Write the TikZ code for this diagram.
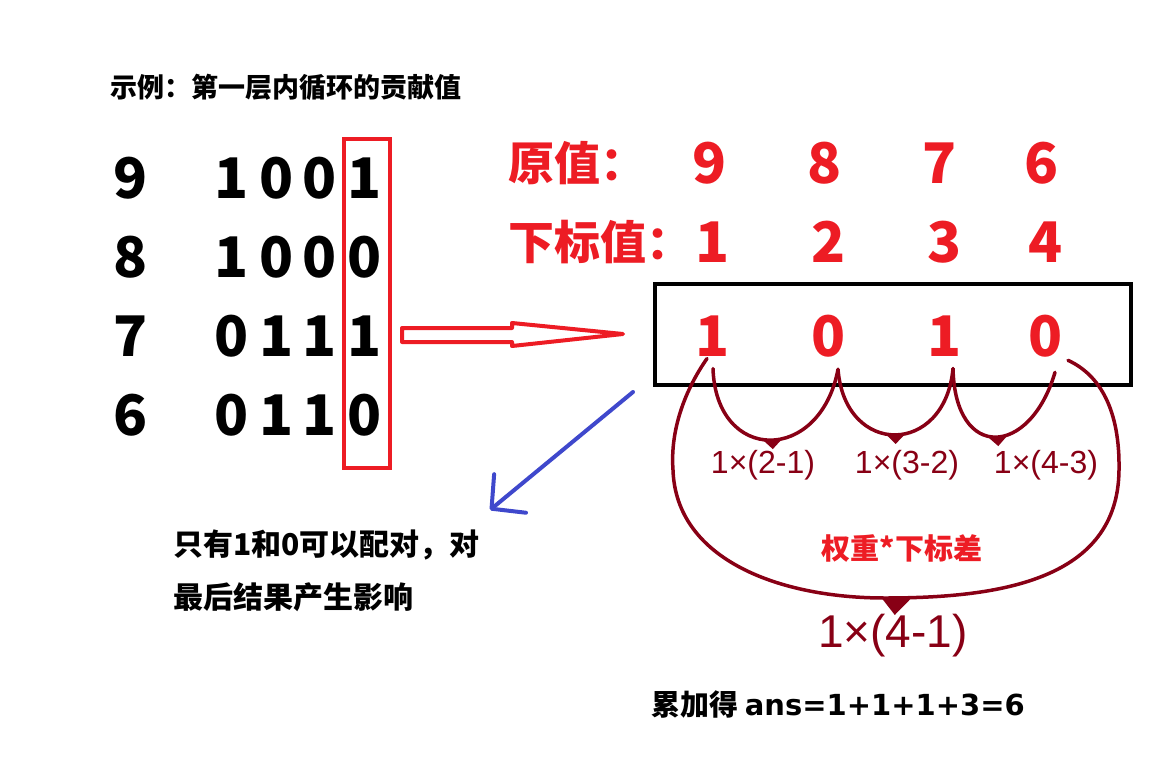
\documentclass[tikz,border=0pt]{standalone}
\usepackage{fontspec}
\setmainfont{Noto Sans CJK SC}
\newfontfamily\handfont{Liberation Sans}
\newfontfamily\latfont{DejaVu Sans}
\usepackage{xcolor}
\usetikzlibrary{arrows.meta,calc,decorations.markings}
\definecolor{pred}{RGB}{237,28,36}
\definecolor{hred}{RGB}{136,0,21}
\definecolor{pblue}{RGB}{63,72,204}

\begin{document}
\begin{tikzpicture}[x=1pt, y=-1pt,
  digit/.style={inner sep=0pt, font=\fontsize{56}{60}\selectfont\bfseries},
  rdigit/.style={digit, text=pred},
  txt/.style={inner sep=0pt, anchor=west, font=\fontsize{29}{32}\selectfont\bfseries},
  rhead/.style={inner sep=0pt, anchor=west, text=pred, font=\fontsize{46}{50}\selectfont\bfseries},
  hand/.style={hred, line width=3.5pt, line cap=round},
  handtext/.style={inner sep=0pt, text=hred, font=\fontsize{32}{36}\selectfont\handfont},
  midtri/.style={postaction={decorate}, decoration={markings,
    mark=at position #1 with {\fill[hred] (-9pt,0pt) -- (9pt,0pt) -- (0pt,-9pt) -- cycle;}}},
  bigtri/.style={postaction={decorate}, decoration={markings,
    mark=at position #1 with {\fill[hred] (-13pt,0pt) -- (17pt,0pt) -- (0pt,-17pt) -- cycle;}}},
  bluearr/.style={pblue, line width=4pt, line cap=round, -{Straight Barb[length=24pt, width=50pt, round]}}
]
\useasboundingbox (0,0) rectangle (1156,763);

\node[txt, font=\fontsize{27}{30}\selectfont\bfseries] (title) at (110,87) {示例：第一层内循环的贡献值};

% left: values and their bits
\node[digit] (v9) at (131,178) {9};
\node[digit] (v8) at (131,257) {8};
\node[digit] (v7) at (131,336) {7};
\node[digit] (v6) at (131,415) {6};

\node[digit] (r1c1) at (232,178) {1}; \node[digit] (r1c2) at (277,178) {0}; \node[digit] (r1c3) at (320,178) {0}; \node[digit] (r1c4) at (365,178) {1};
\node[digit] (r2c1) at (232,257) {1}; \node[digit] (r2c2) at (277,257) {0}; \node[digit] (r2c3) at (320,257) {0}; \node[digit] (r2c4) at (365,257) {0};
\node[digit] (r3c1) at (232,336) {0}; \node[digit] (r3c2) at (277,336) {1}; \node[digit] (r3c3) at (320,336) {1}; \node[digit] (r3c4) at (365,336) {1};
\node[digit] (r4c1) at (232,415) {0}; \node[digit] (r4c2) at (277,415) {1}; \node[digit] (r4c3) at (320,415) {1}; \node[digit] (r4c4) at (365,415) {0};

\node[draw=pred, line width=4pt, minimum width=46pt, minimum height=329pt, inner sep=0pt] (rbox) at (367,303.5) {};

% hollow arrow
\draw[pred, line width=4pt, line join=round] (402,328) -- (512,328) -- (512,323) -- (623,334) -- (512,346) -- (512,342) -- (402,342) -- cycle;

% right: values, indices, last bits
\node[rhead] (orig) at (508,163) {原值：};
\node[rdigit] (o1) at (710,163) {9};
\node[rdigit] (o2) at (825,163) {8};
\node[rdigit] (o3) at (940,163) {7};
\node[rdigit] (o4) at (1042,163) {6};

\node[rhead] (idx) at (508,242) {下标值：};
\node[rdigit] (i1) at (713,242) {1};
\node[rdigit] (i2) at (829,242) {2};
\node[rdigit] (i3) at (945,242) {3};
\node[rdigit] (i4) at (1046,242) {4};

\node[draw, line width=4pt, minimum width=476pt, minimum height=101pt, inner sep=0pt] (bbox) at (893,334.5) {};
\node[rdigit] (p1) at (713,336) {1};
\node[rdigit] (p2) at (829,336) {0};
\node[rdigit] (p3) at (945,336) {1};
\node[rdigit] (p4) at (1046,336) {0};

% pairs
\draw[hand, midtri=0.5] ($(p1.south)+(0,12)$) .. controls +(3,95) and +(-18,95) .. ($(p2.south)+(9,12)$);
\draw[hand, midtri=0.5] ($(p2.south)+(9,12)$) .. controls +(7,88) and +(-8,88) .. ($(p3.south)+(8,12)$);
\draw[hand, midtri=0.5] ($(p3.south)+(8,12)$) .. controls +(2,93) and +(-25,85) .. ($(p4.south)+(9,15)$);
\draw[hand, bigtri=0.49] ($(p1.south)+(-6,2)$) .. controls (685,390) and (670,430) .. (673,470)
  .. controls (676,560) and (780,598) .. (885,598)
  .. controls (1000,598) and (1118,580) .. (1119,470)
  .. controls (1120,410) and (1100,375) .. ($(p4.south)+(22,3)$);

\node[handtext] (w1) at (763,465) {1×(2-1)};
\node[handtext] (w2) at (907,465) {1×(3-2)};
\node[handtext] (w3) at (1046,465) {1×(4-3)};
\node[txt, anchor=center, text=pred] (rule) at (902,549) {权重*下标差};
\node[handtext, font=\fontsize{46}{50}\selectfont\handfont] (w4) at (893,636) {1×(4-1)};

% note
\coordinate (bfrom) at (633,392);
\coordinate (bto) at (490,510);
\draw[bluearr] (bfrom) -- (bto);
\node[txt, font=\fontsize{30}{32}\selectfont\bfseries] (note1) at (173,545) {只有1和0可以配对，对};
\node[txt, font=\fontsize{30}{32}\selectfont\bfseries] (note2) at (173,597) {最后结果产生影响};

\node[txt] (sum) at (651,705) {累加得 {\latfont\fontsize{29}{30}\selectfont ans=1+1+1+3=6}};
\end{tikzpicture}
\end{document}
